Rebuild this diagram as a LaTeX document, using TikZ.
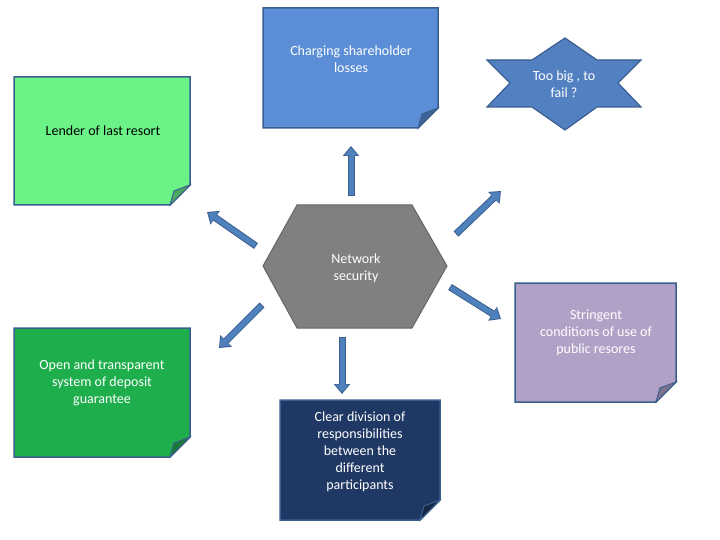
\documentclass[tikz,border=0pt]{standalone}
\usepackage{fontspec}
\setmainfont{Carlito}
\usetikzlibrary{arrows.meta}
\definecolor{cblue}{HTML}{5B8ED6}
\definecolor{cbord}{HTML}{3A5F8F}
\definecolor{lgreen}{HTML}{6CF387}
\definecolor{dgreen}{HTML}{1FAE4C}
\definecolor{navy}{HTML}{1F3864}
\definecolor{lav}{HTML}{B2A1C7}
\definecolor{arr}{HTML}{4F81BD}
\newcommand{\notebox}[5]{%
  \fill[#5,draw=cbord,line width=1.5pt] (#1,#2) -- (#3,#2) -- (#3,#4-20) -- (#3-20,#4) -- (#1,#4) -- cycle;
  \fill[#5!70!black,draw=cbord,line width=1pt] (#3,#4-20) -- (#3-16,#4-14) -- (#3-20,#4) -- cycle;}
\tikzset{txt/.style={font=\fontsize{14}{17}\selectfont,align=center,text=white},
  barr/.style={draw=cbord,line width=7pt,-{Triangle[width=16pt,length=10pt]}},
  barri/.style={draw=arr,line width=5pt,-{Triangle[width=13pt,length=8pt]},shorten >=1.5pt,shorten <=1pt}}
\begin{document}
\begin{tikzpicture}[x=1pt,y=-1pt]
\useasboundingbox (0,0) rectangle (720,540);
\notebox{263}{8}{438}{128}{cblue}
\node[txt] (t1) at (351,59) {Charging shareholder\\losses};
\notebox{14}{77}{190}{205}{lgreen}
\node[txt,text=black] (t2) at (103,131) {Lender of last resort};
\notebox{14}{328}{190}{457}{dgreen}
\node[txt] (t3) at (102,383) {Open and transparent\\system of deposit\\guarantee};
\notebox{280}{400}{440}{520}{navy}
\node[txt] (t4) at (360,452) {Clear division of\\responsibilities\\between the\\different\\participants};
\notebox{515}{283}{676}{402}{lav}
\node[txt] (t5) at (596,333) {Stringent\\conditions of use of\\public resores};
\filldraw[fill=gray,draw=gray!80!black,line width=1pt] (263,266) -- (297,205) -- (412,205) -- (447,266) -- (412,328) -- (297,328) -- cycle;
\node[txt] (hex) at (356,268) {Network\\security};
\filldraw[fill=cblue!90!black,draw=cbord,line width=1.2pt] (565,38) -- (597,60) -- (641,60) -- (618,83) -- (641,107) -- (597,107) -- (565,130) -- (532,107) -- (487,107) -- (510,83) -- (487,60) -- (532,60) -- cycle;
\node[txt] (star) at (564,84) {Too big , to\\fail ?};
\coordinate (a1s) at (351,196); \coordinate (a1e) at (351,146);
\coordinate (a2s) at (256,246); \coordinate (a2e) at (207,212);
\coordinate (a3s) at (456,234); \coordinate (a3e) at (501,191);
\coordinate (a4s) at (450,287); \coordinate (a4e) at (501,319);
\coordinate (a5s) at (342,337); \coordinate (a5e) at (342,394);
\coordinate (a6s) at (262,305); \coordinate (a6e) at (219,348);
\foreach \i in {1,...,6}{\draw[barr] (a\i s) -- (a\i e); \draw[barri] (a\i s) -- (a\i e);}
\end{tikzpicture}
\end{document}
